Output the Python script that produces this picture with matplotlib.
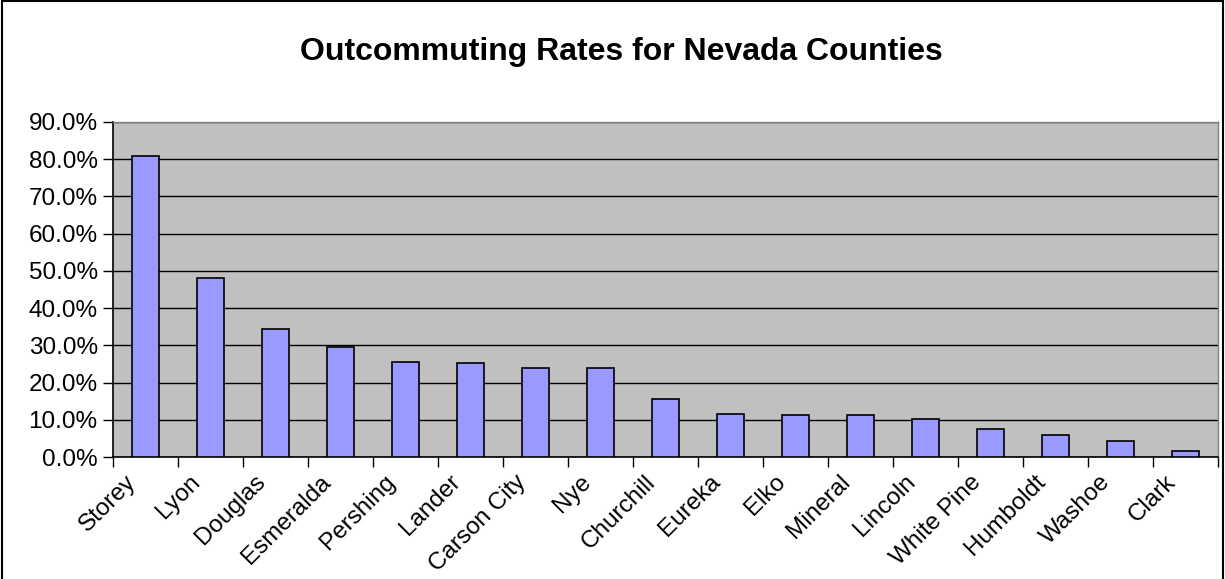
import matplotlib
matplotlib.use("Agg")
import matplotlib.pyplot as plt
import numpy as np
from matplotlib.ticker import FuncFormatter, FixedLocator
from matplotlib.patches import Rectangle
from matplotlib.transforms import ScaledTranslation

counties = ["Storey", "Lyon", "Douglas", "Esmeralda", "Pershing", "Lander",
            "Carson City", "Nye", "Churchill", "Eureka", "Elko", "Mineral",
            "Lincoln", "White Pine", "Humboldt", "Washoe", "Clark"]
rates = [80.8, 48.0, 34.4, 29.6, 25.6, 25.2, 24.0, 23.9, 15.5, 11.6, 11.2,
         11.2, 10.3, 7.5, 6.0, 4.4, 1.6]
y_ticks = [0, 10, 20, 30, 40, 50, 60, 70, 80, 90]
title = "Outcommuting Rates for Nevada Counties"

plt.rcParams['font.family'] = ['Liberation Sans', 'DejaVu Sans']

fig = plt.figure(figsize=(12.25, 5.79), dpi=100)
ax = fig.add_axes([113/1225, 1-457/579, (1218-113)/1225, (457-122)/579])

x = np.arange(len(counties))
ax.bar(x, rates, width=0.41, color="#9999FF", edgecolor="black", linewidth=1.2, zorder=3)

ax.set_facecolor("#C0C0C0")
ax.set_xlim(-0.5, len(counties) - 0.5)
ax.set_ylim(0, 90)
ax.yaxis.set_major_locator(FixedLocator(y_ticks))
ax.yaxis.set_major_formatter(FuncFormatter(lambda v, p: f"{v:.1f}%"))
ax.grid(axis='y', color='black', linewidth=1.0, zorder=1)
ax.set_axisbelow(True)

ax.set_xticks(x)
ax.set_xticklabels(counties, rotation=45, ha='right', va='top', rotation_mode='anchor')
ax.set_xticks(np.arange(len(counties) + 1) - 0.5, minor=True)
ax.tick_params(axis='x', which='major', length=0, pad=10, labelsize=17.5)
ax.tick_params(axis='x', which='minor', length=7, width=1, direction='out', color='black')
ax.tick_params(axis='y', which='major', length=7, width=1, direction='out', labelsize=17.5, pad=4)
offset = ScaledTranslation(-21/100, 0, fig.dpi_scale_trans)
for lab in ax.get_xticklabels():
    lab.set_transform(lab.get_transform() + offset)

for s in ['top', 'right']:
    ax.spines[s].set_color('#808080')
    ax.spines[s].set_linewidth(1.0)
for s in ['left', 'bottom']:
    ax.spines[s].set_color('black')
    ax.spines[s].set_linewidth(1.2)

fig.text(621/1225, 1-52/579, title, ha='center', va='center', fontsize=23,
         fontweight='bold')

fig.patches.append(Rectangle((1.5/1225, -0.1), (1222.5-1.5)/1225, 1.1 - 1.5/579,
                             transform=fig.transFigure, fill=False,
                             edgecolor='black', linewidth=1.5))

fig.savefig("out.png", dpi=100)
